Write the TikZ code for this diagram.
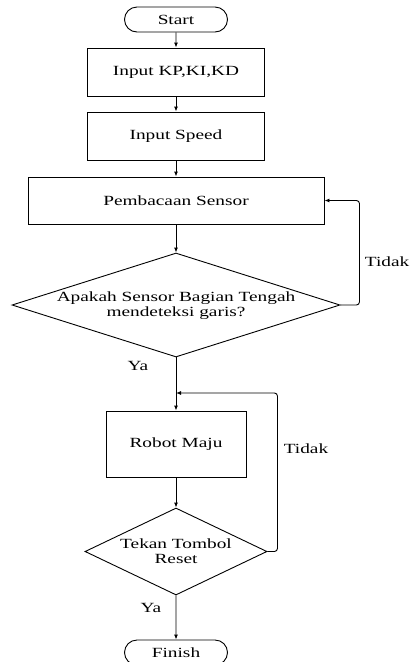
\documentclass[tikz,border=0pt]{standalone}
\usepackage{fontspec}
\setmainfont{Liberation Serif}[FakeStretch=1.38]
\usetikzlibrary{arrows.meta,shapes.geometric,shapes.misc}
\begin{document}
\begin{tikzpicture}[x=1pt,y=-1pt,
  font=\fontsize{14}{15.5}\selectfont,
  box/.style={draw, line width=0.9pt, rectangle, inner sep=0pt},
  term/.style={draw, line width=0.9pt, rounded rectangle, minimum width=103pt, minimum height=25pt, inner sep=0pt},
  dia/.style={draw, line width=0.9pt, diamond, inner sep=0pt},
  arr/.style={line width=0.9pt, -{Latex[length=5pt,width=4pt]}},
  lbl/.style={inner sep=0pt}]
\useasboundingbox (0,0) rectangle (410,662);
% nodes
\node[term] (start) at (176,19.5) {Start};
\node[box, minimum width=177pt, minimum height=48pt] (kp) at (176,72) {Input KP,KI,KD};
\node[box, minimum width=177pt, minimum height=48pt] (spd) at (176,136) {Input Speed};
\node[box, minimum width=296pt, minimum height=47pt] (baca) at (176,200.5) {Pembacaan Sensor};
\node[dia, minimum width=328pt, minimum height=104pt] (d1) at (176,305) {};
\node[align=center, lbl] (d1t) at (176,305.5) {Apakah Sensor Bagian Tengah\\mendeteksi garis?};
\node[box, minimum width=140pt, minimum height=66pt] (robot) at (176,444) {Robot Maju};
\node[dia, minimum width=182pt, minimum height=87pt] (d2) at (176,551.5) {};
\node[align=center, lbl] (d2t) at (176,551) {Tekan Tombol\\Reset};
\node[term] (finish) at (176,652.5) {Finish};
\coordinate (join) at (176,393);
% labels
\node[lbl] (ya1) at (138,366) {Ya};
\node[lbl, anchor=east] (tidak1) at (409.5,262) {Tidak};
\node[lbl] (tidak2) at (306,449) {Tidak};
\node[lbl] (ya2) at (151,608) {Ya};
% connectors
\draw[arr] (start) -- (kp);
\draw[arr] (kp) -- (spd);
\draw[arr] (spd) -- (baca);
\draw[arr] (baca) -- (d1);
\draw[arr] (d1.south) -- (robot);
\draw[arr] (robot) -- (d2);
\draw[arr] (d2.south) -- (finish);
\draw[arr, rounded corners=3pt] (d1.east) -- ++(19,0) |- (baca.east);
\draw[arr, rounded corners=3pt] (d2.east) -- ++(10,0) |- (join);
\end{tikzpicture}
\end{document}
